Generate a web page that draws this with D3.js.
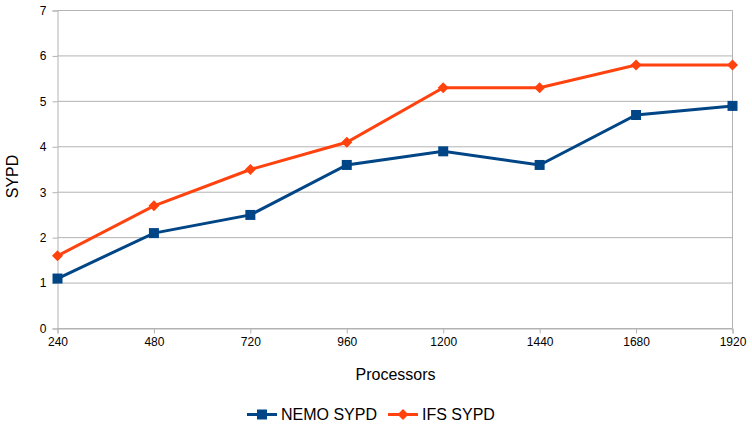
<!DOCTYPE html>
<html>
<head>
<meta charset="utf-8">
<script src="https://cdn.jsdelivr.net/npm/d3@7"></script>
<style>
  body { margin: 0; background: #fff; }
  svg { font-family: "Liberation Sans", Arial, sans-serif; }
</style>
</head>
<body>
<svg id="chart" width="752" height="428"></svg>
<script>
(function(){

  var processors = [240, 480, 720, 960, 1200, 1440, 1680, 1920]
  var nemoSypd = [1.1, 2.1, 2.5, 3.6, 3.9, 3.6, 4.7, 4.9]
  var ifsSypd = [1.6, 2.7, 3.5, 4.1, 5.3, 5.3, 5.8, 5.8]
  var yTicks = [0, 1, 2, 3, 4, 5, 6, 7]
  var seriesNames = ['NEMO SYPD', 'IFS SYPD']

  var NEMO_COLOR = '#004586'
  var IFS_COLOR = '#ff420e'
  var GRID_COLOR = '#b3b3b3'

  var left = 57.5, right = 732.5, top = 10.5, bottom = 328.5

  var svg = d3.select('#chart')

  var x = d3.scalePoint().domain(processors).range([left, right])
  var y = d3.scaleLinear().domain([0, 7]).range([bottom, top])

  // horizontal grid
  svg.append('g')
    .selectAll('line')
    .data(yTicks)
    .join('line')
    .attr('x1', left)
    .attr('x2', right)
    .attr('y1', function (d) { return y(d) })
    .attr('y2', function (d) { return y(d) })
    .attr('stroke', GRID_COLOR)

  // right edge of plot
  svg.append('line')
    .attr('x1', x(processors[processors.length - 1]))
    .attr('x2', x(processors[processors.length - 1]))
    .attr('y1', top)
    .attr('y2', bottom)
    .attr('stroke', GRID_COLOR)

  // axes
  var yAxis = svg.append('g')
    .attr('transform', 'translate(' + left + ',0)')
    .call(d3.axisLeft(y).tickValues(yTicks).tickSize(5).tickPadding(6).tickFormat(d3.format('d')))
  var xAxis = svg.append('g')
    .attr('transform', 'translate(0,' + bottom + ')')
    .call(d3.axisBottom(x).tickSize(5).tickPadding(4))

  ;[yAxis, xAxis].forEach(function (g) {
    g.select('.domain').attr('stroke', GRID_COLOR)
    g.selectAll('.tick line').attr('stroke', GRID_COLOR)
    g.selectAll('.tick text')
      .attr('fill', '#000')
      .style('font-size', '12px')
      .style('font-family', '"Liberation Sans", Arial, sans-serif')
  })

  // axis titles
  svg.append('text')
    .attr('x', (left + right) / 2 + 0.5)
    .attr('y', 379.5)
    .attr('text-anchor', 'middle')
    .style('font-size', '16px')
    .text('Processors')

  svg.append('text')
    .attr('transform', 'translate(17.5,176.5) rotate(-90)')
    .attr('text-anchor', 'middle')
    .style('font-size', '16px')
    .text('SYPD')

  var line = d3.line()
    .x(function (d, i) { return x(processors[i]) })
    .y(function (d) { return y(d) })

  var square = d3.symbol().type(d3.symbolSquare).size(100)
  var diamond = function (s) {
    return 'M0,' + -s + 'L' + s + ',0L0,' + s + 'L' + -s + ',0Z'
  }

  // NEMO
  svg.append('path')
    .attr('d', line(nemoSypd))
    .attr('fill', 'none')
    .attr('stroke', NEMO_COLOR)
    .attr('stroke-width', 3)
  svg.append('g')
    .selectAll('path')
    .data(nemoSypd)
    .join('path')
    .attr('transform', function (d, i) { return 'translate(' + x(processors[i]) + ',' + y(d) + ')' })
    .attr('d', square())
    .attr('fill', NEMO_COLOR)

  // IFS
  svg.append('path')
    .attr('d', line(ifsSypd))
    .attr('fill', 'none')
    .attr('stroke', IFS_COLOR)
    .attr('stroke-width', 3)
  svg.append('g')
    .selectAll('path')
    .data(ifsSypd)
    .join('path')
    .attr('transform', function (d, i) { return 'translate(' + x(processors[i]) + ',' + y(d) + ')' })
    .attr('d', diamond(5.5))
    .attr('fill', IFS_COLOR)

  // legend
  var legend = svg.append('g')
  var items = [
    { name: seriesNames[0], color: NEMO_COLOR, x0: 247, marker: 'square' },
    { name: seriesNames[1], color: IFS_COLOR, x0: 388, marker: 'diamond' }
  ]
  items.forEach(function (it) {
    var g = legend.append('g').attr('transform', 'translate(' + it.x0 + ',414.5)')
    g.append('line').attr('x1', 0).attr('x2', 30).attr('stroke', it.color).attr('stroke-width', 3)
    g.append('path')
      .attr('transform', 'translate(15,0)')
      .attr('d', it.marker === 'square' ? square() : diamond(5.5))
      .attr('fill', it.color)
    g.append('text')
      .attr('x', 34)
      .attr('y', 5.5)
      .style('font-size', '16px')
      .text(it.name)
  })

})()
</script>
</body>
</html>
